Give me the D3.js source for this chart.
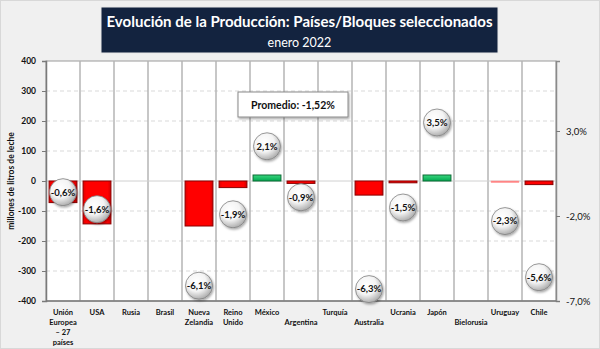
<!DOCTYPE html>
<html><head><meta charset="utf-8">
<script src="https://cdn.jsdelivr.net/npm/d3@7"></script>
<style>
html,body{margin:0;padding:0;background:#f0f0f0;}
svg{display:block;font-family:Lato, "Open Sans", sans-serif;}
</style></head>
<body>
<svg id="chart" width="600" height="349"></svg>
<script>
// ---- data ----
const categories = ["Unión Europea – 27 países","USA","Rusia","Brasil","Nueva Zelandia","Reino Unido","México","Argentina","Turquía","Australia","Ucrania","Japón","Bielorusia","Uruguay","Chile"];
const categoryLines = [["Unión","Europea","– 27","países"],["USA"],["Rusia"],["Brasil"],["Nueva","Zelandia"],["Reino","Unido"],["México"],["Argentina"],["Turquía"],["Australia"],["Ucrania"],["Japón"],["Bielorusia"],["Uruguay"],["Chile"]];
const volumeChange = [-72,-143,null,null,-150,-22,20,-8,null,-47,-6,20,null,-2,-12]; // millones de litros
const pctChange = [-0.6,-1.6,null,null,-6.1,-1.9,2.1,-0.9,null,-6.3,-1.5,3.5,null,-2.3,-5.6]; // %
const average = -1.52;
const leftTicks = [400,300,200,100,0,-100,-200,-300,-400];
const rightTicks = [3,-2,-7];
const titleText = "Evolución de la Producción: Países/Bloques seleccionados";
const subtitleText = "enero 2022";
const yTitle = "millones de litros de leche";

// ---- layout ----
const L = 46, R = 556, T = 61, B = 301;
const staggered = new Set(["Argentina","Australia","Bielorusia"]);
const loc = d3.formatLocale({decimal:",", thousands:".", grouping:[3], currency:["","€"], minus:"-"});
const f0 = loc.format("d"), f1 = loc.format(".1f"), f2 = loc.format(".2f");

const svg = d3.select("#chart");
const defs = svg.append("defs");

// gradients
const rg = defs.append("radialGradient").attr("id","ball").attr("cx","40%").attr("cy","35%").attr("r","65%");
rg.append("stop").attr("offset","0%").attr("stop-color","#ffffff");
rg.append("stop").attr("offset","55%").attr("stop-color","#f4f4f4");
rg.append("stop").attr("offset","100%").attr("stop-color","#b0b0b0");
const sh = defs.append("filter").attr("id","shadow").attr("x","-30%").attr("y","-30%").attr("width","170%").attr("height","170%");
sh.append("feDropShadow").attr("dx",1).attr("dy",1.5).attr("stdDeviation",1.2).attr("flood-color","#000").attr("flood-opacity",0.35);
const redG = defs.append("linearGradient").attr("id","redG").attr("x1","0").attr("x2","1").attr("y1","0").attr("y2","0");
redG.append("stop").attr("offset","0%").attr("stop-color","#e00000");
redG.append("stop").attr("offset","12%").attr("stop-color","#ff0000");
redG.append("stop").attr("offset","88%").attr("stop-color","#ff0000");
redG.append("stop").attr("offset","100%").attr("stop-color","#d00000");
const greenG = defs.append("linearGradient").attr("id","greenG").attr("x1","0").attr("x2","0").attr("y1","0").attr("y2","1");
greenG.append("stop").attr("offset","0%").attr("stop-color","#3ad67f");
greenG.append("stop").attr("offset","100%").attr("stop-color","#00a84f");

// outer frame
svg.append("rect").attr("x",0.5).attr("y",0.5).attr("width",599).attr("height",348)
  .attr("fill","#f0f0f0").attr("stroke","#d8d8d8");

// title box
svg.append("rect").attr("x",101).attr("y",7).attr("width",397).attr("height",46)
  .attr("fill","#13233f").attr("stroke","#e8e8e8").attr("stroke-width",1);
svg.append("text").attr("x",299.5).attr("y",27).attr("text-anchor","middle")
  .attr("fill","#fff").attr("font-weight","bold").attr("font-size",15.5)
  .attr("textLength",386).attr("lengthAdjust","spacingAndGlyphs").text(titleText);
svg.append("text").attr("x",299.5).attr("y",47).attr("text-anchor","middle")
  .attr("fill","#fff").attr("font-size",12.5).text(subtitleText);

// scales
const x = d3.scaleBand().domain(categories).range([L,R]).padding(0);
const y = d3.scaleLinear().domain([-400,400]).range([B,T]);
const yp = d3.scaleLinear().domain([-7, -7 + (B-T)/17]).range([B,T]);

// plot area
svg.append("rect").attr("x",L).attr("y",T).attr("width",R-L).attr("height",B-T)
  .attr("fill","#fff").attr("stroke","#9a9a9a").attr("stroke-width",1);

// horizontal dashed grid
svg.append("g").selectAll("line").data(leftTicks.filter(d=>d!==0 && d!==400 && d!==-400)).join("line")
  .attr("x1",L).attr("x2",R).attr("y1",d=>y(d)).attr("y2",d=>y(d))
  .attr("stroke","#d9d9d9").attr("stroke-width",1.2).attr("stroke-dasharray","4,3");

// vertical category separators
svg.append("g").selectAll("line").data(categories.slice(1)).join("line")
  .attr("x1",d=>x(d)).attr("x2",d=>x(d)).attr("y1",T).attr("y2",B)
  .attr("stroke","#b5b5b5").attr("stroke-width",1.5);

// zero line
svg.append("line").attr("x1",L).attr("x2",R).attr("y1",y(0)).attr("y2",y(0))
  .attr("stroke","#d0d0d0").attr("stroke-width",1);

// bars
const bw = x.bandwidth()*0.82, bo = x.bandwidth()*0.09;
const barData = categories.map((c,i)=>({c, v:volumeChange[i]})).filter(d=>d.v!==null);
svg.append("g").selectAll("rect").data(barData).join("rect")
  .attr("x",d=>x(d.c)+bo).attr("width",bw)
  .attr("y",d=>y(Math.max(0,d.v))).attr("height",d=>Math.max(1.5,Math.abs(y(d.v)-y(0))))
  .attr("fill",d=>d.v>=0?"url(#greenG)":(Math.abs(d.v)<4?"#ff8080":"url(#redG)"))
  .attr("stroke",d=>d.v>=0?"#0b6b35":(Math.abs(d.v)<4?"#ff9090":"#8a0000"))
  .attr("stroke-width",d=>Math.abs(d.v)<4?0.5:1);

// axes
const gl = svg.append("g").attr("transform",`translate(${L},0)`)
  .call(d3.axisLeft(y).tickValues(leftTicks).tickSize(4).tickPadding(6).tickFormat(f0));
gl.select(".domain").attr("stroke","#7a7a7a").attr("stroke-width",1.5);
gl.selectAll(".tick line").attr("stroke","#7a7a7a");
gl.selectAll("text").attr("font-size",8.5).attr("font-weight","bold").attr("fill","#111").attr("font-family","Lato, sans-serif");

const gr = svg.append("g").attr("transform",`translate(${R},0)`)
  .call(d3.axisRight(yp).tickValues(rightTicks).tickSize(4).tickPadding(6).tickFormat(d=>f1(d)+"%"));
gr.select(".domain").attr("stroke","#8a8a8a").attr("stroke-width",1.5);
gr.selectAll(".tick line").attr("stroke","#7a7a7a");
gr.selectAll("text").attr("font-size",9.5).attr("fill","#111").attr("font-family","Lato, sans-serif");

// bottom axis line
svg.append("line").attr("x1",L).attr("x2",R).attr("y1",B).attr("y2",B).attr("stroke","#7a7a7a").attr("stroke-width",1.5);

// category labels
const lg = svg.append("g");
categories.forEach((c,i)=>{
  const t = lg.append("text").attr("x",x(c)+x.bandwidth()/2)
    .attr("y", staggered.has(c) ? 325 : 314.5)
    .attr("text-anchor","middle").attr("font-size",7.5).attr("font-weight","bold").attr("fill","#111");
  categoryLines[i].forEach((ln,j)=>{
    t.append("tspan").attr("x",x(c)+x.bandwidth()/2).attr("dy", j===0?0:10.3).text(ln);
  });
});

// y title
svg.append("text").attr("transform",`translate(14,${(T+B)/2}) rotate(-90)`)
  .attr("text-anchor","middle").attr("font-size",8.5).attr("font-weight","bold").attr("fill","#111").text(yTitle);

// bubbles
const pData = categories.map((c,i)=>({c, p:pctChange[i]})).filter(d=>d.p!==null);
const bg = svg.append("g").selectAll("g").data(pData).join("g")
  .attr("transform",d=>`translate(${x(d.c)+x.bandwidth()/2},${yp(d.p)})`);
bg.append("circle").attr("r",13.5).attr("fill","url(#ball)").attr("stroke","#808080").attr("stroke-width",0.8).attr("filter","url(#shadow)");
bg.append("text").attr("text-anchor","middle").attr("dy","0.35em").attr("font-size",9.5).attr("font-weight","bold").attr("fill","#111")
  .text(d=>f1(d.p)+"%");

// average box
svg.append("rect").attr("x",238).attr("y",92).attr("width",110).attr("height",25)
  .attr("fill","#fff").attr("stroke","#8a8a8a").attr("stroke-width",1).attr("filter","url(#shadow)");
svg.append("text").attr("x",293).attr("y",108.5).attr("text-anchor","middle")
  .attr("font-size",10.5).attr("font-weight","bold").attr("fill","#111").text("Promedio: "+f2(average)+"%");
</script>
</body></html>
